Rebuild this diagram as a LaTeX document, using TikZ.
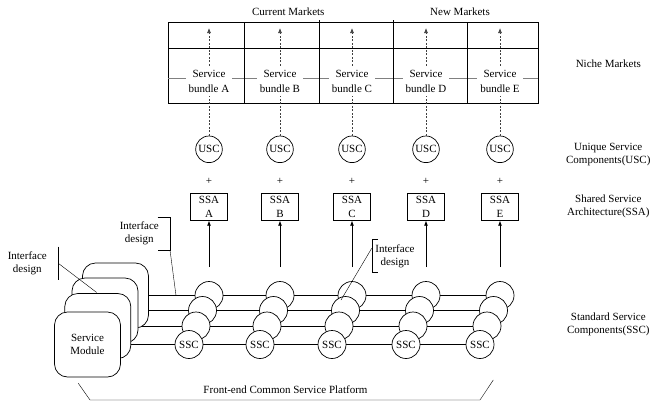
\documentclass[tikz,border=0pt]{standalone}
\usepackage{fontspec}
\setmainfont{Liberation Serif}
\usetikzlibrary{arrows.meta}
\pgfdeclarelayer{background}
\pgfsetlayers{background,main}
\begin{document}
\begin{tikzpicture}[x=1pt,y=-1pt,line width=0.7pt,font=\fontsize{11}{13}\selectfont]
\tikzset{
 lbl/.style={align=center, inner sep=0pt},
 uscnode/.style={circle, draw, fill=white, minimum size=26.6pt, inner sep=0pt},
 sscnode/.style={circle, draw, fill=white, minimum size=28pt, inner sep=0pt},
 ssabox/.style={draw, minimum width=36.7pt, minimum height=26.7pt, align=center, inner sep=0pt, font=\fontsize{11}{13.3}\selectfont},
 bundle/.style={fill=white, align=center, inner sep=3pt, font=\fontsize{11}{15.5}\selectfont},
 modbox/.style={draw, fill=white, rounded corners=13pt, minimum width=66pt, minimum height=65pt, align=center, inner sep=0pt},
 tipped/.style={-{Latex[length=5pt,width=4pt]}},
 dsh/.style={dash pattern=on 2pt off 1.5pt, draw=black!75},
}
\useasboundingbox (0,0) rectangle (656,407);

% top table
\draw (168,22.7) rectangle (538,103);
\draw (168,48.3) -- (538,48.3);
\draw[gray] (168,78) -- (538,78);
\draw (244.3,22.7) -- (244.3,103);
\draw (319.3,20) -- (319.3,103);
\draw (393.3,20) -- (393.3,103);
\draw (467.3,22.7) -- (467.3,103);
\node[lbl] (cur) at (288.3,11.7) {Current Markets};
\node[lbl] (new) at (460,11.7) {New Markets};

% right labels
\node[lbl] (niche) at (608.3,64) {Niche Markets};
\node[lbl] (uscl) at (608.3,155) {Unique Service\\Components(USC)};
\node[lbl] (ssal) at (608.3,206) {Shared Service\\Architecture(SSA)};
\node[lbl] (sscl) at (608.3,324.5) {Standard Service\\Components(SSC)};

% columns
\foreach \x/\l in {209/A,280/B,352/C,426/D,500/E}{
  \node[uscnode] (usc\l) at (\x,149.3) {USC};
  \coordinate (tip\l) at (\x,28);
  \draw[dsh,tipped] (usc\l) -- (tip\l);
  \node[bundle] (sb\l) at (\x,81.5) {Service\\bundle \l};
  \node[lbl] (plus\l) at (\x,181) {+};
  \node[ssabox] (ssa\l) at (\x,207) {SSA\\\l};
  \coordinate (ss\l) at (\x,267);
  \draw[tipped] (ss\l) -- (ssa\l);
}

% service module stack
\node[modbox] (box3) at (115.5,295.5) {};
\node[modbox] (box2) at (105,310.5) {};
\node[modbox] (box1) at (97.8,326) {};
\node[modbox] (box0) at (87.5,344.5) {Service\\Module};

% SSC circles, back to front
\foreach \r/\dx/\y in {3/0/295.5,2/-6.5/310.5,1/-13/326}{
  \foreach \x/\l in {209/A,280/B,352/C,426/D,500/E}{
    \node[sscnode] (c\r\l) at (\x+\dx,\y) {};
  }
}
\foreach \x/\l in {209/A,280/B,352/C,426/D,500/E}{
  \node[sscnode] (c0\l) at (\x-20,344.5) {SSC};
}

% horizontal links
\begin{pgfonlayer}{background}
\foreach \r in {0,1,2,3}{
  \draw (box\r) -- (c\r A) -- (c\r B) -- (c\r C) -- (c\r D) -- (c\r E);
}
\end{pgfonlayer}

% interface design labels
\node[lbl] (if1) at (27.3,263.7) {Interface\\design};
\coordinate (if1a) at (58.3,246.7);
\coordinate (if1b) at (58.3,280);
\coordinate (if1m) at (58.3,263.3);
\coordinate (if1e) at (96.7,292.5);
\draw (if1a) -- (if1b);
\draw (if1m) -- (if1e);

\node[lbl] (if2) at (139.3,233.7) {Interface\\design};
\coordinate (if2a) at (157.7,216.7);
\coordinate (if2b) at (170,216.7);
\coordinate (if2c) at (170,250);
\coordinate (if2d) at (157.7,250);
\coordinate (if2e) at (176,295.5);
\draw (if2a) -- (if2b) -- (if2c) -- (if2d);
\draw (if2c) -- (if2e);

\node[lbl] (if3) at (395,256.7) {Interface\\design};
\coordinate (if3a) at (378,239.3);
\coordinate (if3b) at (371.7,239.3);
\coordinate (if3c) at (371.7,271.7);
\coordinate (if3d) at (378,271.7);
\coordinate (if3m) at (371.7,248.3);
\coordinate (if3e) at (341,300);
\draw (if3a) -- (if3b) -- (if3c) -- (if3d);
\draw (if3m) -- (if3e);

% platform bracket
\node[lbl] (plat) at (285.5,389.3) {Front-end Common Service Platform};
\coordinate (p1) at (78.3,383.3);
\coordinate (p2) at (90,400);
\coordinate (p3) at (480,400);
\coordinate (p4) at (493.3,380);
\draw (p1) -- (p2) -- (p3) -- (p4);
\end{tikzpicture}
\end{document}
